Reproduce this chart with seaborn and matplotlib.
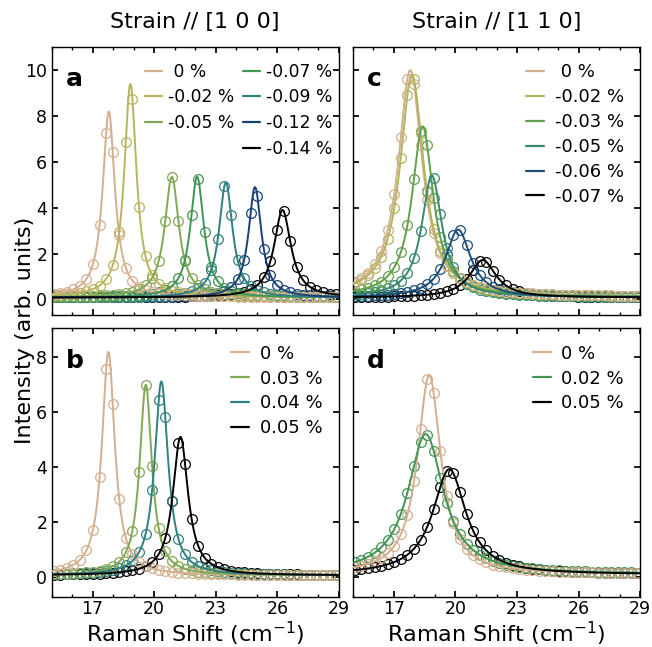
import numpy as np
import pandas as pd
import seaborn as sns
import matplotlib.pyplot as plt
from matplotlib.ticker import MultipleLocator
from matplotlib.lines import Line2D

# Lorentzian fit parameters (peak = top of curve incl. baseline)
# panel a : strain // [1 0 0], compressive
a_labels = [" 0 %", "-0.02 %", "-0.05 %", "-0.07 %", "-0.09 %", "-0.12 %", "-0.14 %"]
a_center = [17.79, 18.84, 20.86, 22.09, 23.49, 24.91, 26.25]
a_peak = [8.2, 9.4, 5.35, 5.35, 5.1, 4.9, 3.9]
a_hwhm = [0.36, 0.36, 0.42, 0.40, 0.40, 0.38, 0.50]
a_base = [0.10, 0.10, 0.10, 0.08, 0.08, 0.08, 0.08]

# panel b : strain // [1 0 0], tensile
b_labels = ["0 %", "0.03 %", "0.04 %", "0.05 %"]
b_center = [17.77, 19.59, 20.35, 21.28]
b_peak = [8.2, 7.0, 7.12, 5.1]
b_hwhm = [0.38, 0.36, 0.40, 0.45]
b_base = [0.05, 0.05, 0.05, 0.05]

# panel c : strain // [1 1 0], compressive
c_labels = [" 0 %", "-0.02 %", "-0.03 %", "-0.05 %", "-0.06 %", "-0.07 %"]
c_center = [17.80, 17.88, 18.40, 18.85, 20.13, 21.33]
c_peak = [10.0, 9.8, 7.55, 5.4, 3.05, 1.72]
c_hwhm = [0.71, 0.70, 0.63, 0.60, 0.74, 0.78]
c_base = [0.12, 0.12, 0.12, 0.10, 0.08, 0.08]

# panel d : strain // [1 1 0], tensile
d_labels = ["0 %", "0.02 %", "0.05 %"]
d_center = [18.72, 18.55, 19.70]
d_peak = [7.35, 5.2, 3.92]
d_hwhm = [0.69, 1.05, 0.98]
d_base = [0.10, 0.10, 0.08]

x_ticks = [17, 20, 23, 26, 29]


def lorentz(x, x0, peak, g, b):
    return b + (peak - b) * g ** 2 / ((x - x0) ** 2 + g ** 2)


sns.set_theme(style="ticks")
plt.rcParams.update({
    "xtick.direction": "in", "ytick.direction": "in",
    "xtick.top": True, "ytick.right": True,
    "xtick.major.size": 4, "ytick.major.size": 4,
    "xtick.minor.size": 2.5, "xtick.minor.visible": True,
    "xtick.major.pad": 2.5, "ytick.major.pad": 3,
    "xtick.labelsize": 12.5, "ytick.labelsize": 12.5,
    "axes.edgecolor": "black", "axes.linewidth": 1.0,
    "xtick.color": "black", "ytick.color": "black",
    "text.color": "black", "axes.labelcolor": "black",
})

cmap = sns.color_palette("gist_earth", as_cmap=True)
x_fit = np.linspace(15, 29, 700)
x_pts = np.arange(15.1, 29.05, 0.32)

fig, axes = plt.subplots(2, 2, figsize=(6.52, 6.47), dpi=100,
                         sharex=True, sharey="row")
fig.subplots_adjust(left=0.079, right=0.982, top=0.927, bottom=0.0777,
                    wspace=0.048, hspace=0.0485)

panels = [
    (axes[0, 0], "a", a_labels, a_center, a_peak, a_hwhm, a_base),
    (axes[1, 0], "b", b_labels, b_center, b_peak, b_hwhm, b_base),
    (axes[0, 1], "c", c_labels, c_center, c_peak, c_hwhm, c_base),
    (axes[1, 1], "d", d_labels, d_center, d_peak, d_hwhm, d_base),
]

for ax, letter, labels, centers, peaks, hwhms, bases in panels:
    n = len(labels)
    colors = [tuple(c) for c in cmap(np.linspace(0.85, 0, n))]

    frames = []
    for lab, x0, pk, g, b in zip(labels, centers, peaks, hwhms, bases):
        frames.append(pd.DataFrame({"x": x_fit,
                                    "y": lorentz(x_fit, x0, pk, g, b),
                                    "strain": lab}))
    df = pd.concat(frames, ignore_index=True)
    sns.lineplot(data=df, x="x", y="y", hue="strain", hue_order=labels,
                 palette=colors, estimator=None, errorbar=None,
                 linewidth=1.4, legend=False, ax=ax, zorder=3)

    # measured points (open circles)
    for i, (x0, pk, g, b) in enumerate(zip(centers, peaks, hwhms, bases)):
        ax.plot(x_pts, lorentz(x_pts, x0, pk, g, b), "o", mfc="none",
                mec=colors[i], ms=7, mew=0.9, zorder=2 + (n - i) * 0.01)

    handles = [Line2D([], [], color=c, lw=1.6) for c in colors]
    leg_labels = list(labels)
    if letter == "a":
        handles.insert(3, Line2D([], [], alpha=0))
        leg_labels.insert(3, "")
        ax.legend(handles, leg_labels, loc="upper right", ncol=2,
                  frameon=False, fontsize=12.3, handlelength=1.0,
                  handletextpad=0.35, labelspacing=0.45, columnspacing=0.5,
                  bbox_to_anchor=(1.03, 1.0))
    else:
        ax.legend(handles, leg_labels, loc="upper right", frameon=False,
                  fontsize=13, handlelength=1.0, handletextpad=0.6,
                  labelspacing=0.38)

    ax.text(0.05, 0.925, letter, transform=ax.transAxes, fontsize=18,
            fontweight="bold", va="top", ha="left")
    ax.set_xlabel("")
    ax.set_ylabel("")

for ax in axes.flat:
    ax.set_xlim(15, 29)
    ax.set_xticks(x_ticks)
    ax.xaxis.set_minor_locator(MultipleLocator(1))
    ax.tick_params(which="both", top=True, right=True)

axes[0, 0].set_ylim(-0.7, 11)
axes[0, 0].set_yticks(range(0, 11, 2))
axes[1, 0].set_ylim(-0.73, 9.05)
axes[1, 0].set_yticks(range(0, 9, 2))

axes[0, 0].set_title("Strain // [1 0 0]", fontsize=16, pad=14)
axes[0, 1].set_title("Strain // [1 1 0]", fontsize=16, pad=14)
for ax in axes[1]:
    ax.set_xlabel("Raman Shift (cm$^{-1}$)", fontsize=16, labelpad=1)
fig.text(0.038, 0.49, "Intensity (arb. units)", rotation=90,
         va="center", ha="center", fontsize=16)

fig.savefig("out.png", dpi=100)
